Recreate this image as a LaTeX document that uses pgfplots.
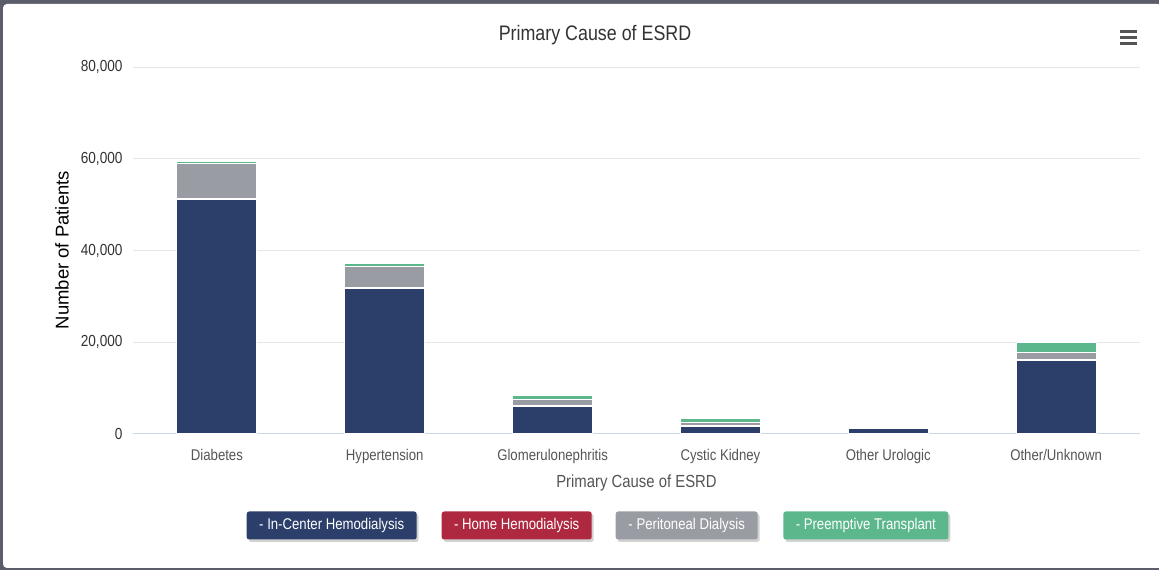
\documentclass[border=0pt]{standalone}
\usepackage{pgfplots}
\pgfplotsset{compat=1.18}
\usepackage{fontspec}
\setmainfont[FakeStretch=0.85]{Liberation Sans}
\newfontfamily\ylabfont{Liberation Sans}
\usetikzlibrary{shadows}

\definecolor{frame}{HTML}{5B5D6B}
\definecolor{incenter}{HTML}{2C3F6B}
\definecolor{homehd}{HTML}{AE283F}
\definecolor{perit}{HTML}{999DA3}
\definecolor{transp}{HTML}{5CB88C}
\definecolor{gridc}{HTML}{E6E6E6}
\definecolor{axisc}{HTML}{CCD6EB}
\definecolor{txt}{HTML}{333333}
\definecolor{lbl}{HTML}{555555}

% patients by primary cause (order: Diabetes ... Other/Unknown)
\pgfplotstableread{
x  ic     home  pd    pt
0  51200  200   7600  450
1  31800  150   4650  500
2  6100   50    1450  700
3  1740   30    730   900
4  1200   10    40    30
5  16100  100   1500  2200
}\esrd

\begin{document}
\begin{tikzpicture}[x=1pt,y=1pt]
\useasboundingbox (0,0) rectangle (1159,570);
% card frame
\fill[frame] (0,0) rectangle (1159,570);
\fill[white, rounded corners=4pt] (3,2) rectangle (1162,566);

\begin{axis}[
  at={(133pt,136pt)}, anchor=south west,
  scale only axis, width=1007pt, height=367pt,
  ybar stacked, bar width=80pt,
  xmin=-0.5, xmax=5.5, ymin=0, ymax=80000,
  xtick={0,...,5},
  xticklabels={Diabetes,Hypertension,Glomerulonephritis,Cystic Kidney,Other Urologic,Other/Unknown},
  ytick={0,20000,40000,60000,80000},
  scaled y ticks=false,
  /pgf/number format/.cd, 1000 sep={,}, assume math mode=true,
  /pgfplots/.cd,
  major tick length=0pt,
  axis x line*=bottom, axis y line*=left,
  x axis line style={axisc, line width=1pt, -},
  y axis line style={draw=none},
  ymajorgrids, grid style={gridc, line width=1pt},
  xticklabel style={font=\fontsize{15.5}{18}\selectfont, text=lbl, yshift=-12pt},
  yticklabel style={font=\fontsize{16}{18}\selectfont, text=txt, xshift=-7pt},
  title={Primary Cause of ESRD},
  title style={font=\fontsize{21}{24}\selectfont, text=txt, at={(0.4588,1.071)}, anchor=center},
  xlabel={Primary Cause of ESRD},
  xlabel style={font=\fontsize{17.5}{20}\selectfont, text=lbl, at={(0.5,-0.134)}, anchor=center},
  ylabel={\ylabfont Number of Patients},
  ylabel style={font=\fontsize{18.5}{22}\selectfont, text=black, at={(-0.0705,0.501)}, anchor=center, rotate=0},
  every axis plot/.append style={draw=white, line width=1pt},
]
\addplot[fill=incenter] table[x=x, y=ic] {\esrd};
\addplot[fill=homehd] table[x=x, y=home] {\esrd};
\addplot[fill=perit] table[x=x, y=pd] {\esrd};
\addplot[fill=transp] table[x=x, y=pt] {\esrd};
\end{axis}

% series key
\tikzset{key/.style={rounded corners=2.5pt, minimum height=28pt, text=white,
  font=\fontsize{15.5}{18}\selectfont, inner sep=0pt,
  drop shadow={shadow xshift=2pt, shadow yshift=-2.5pt, opacity=0.35}}}
\node[key, fill=incenter, minimum width=170pt] at (331.7,44.5) {- In-Center Hemodialysis};
\node[key, fill=homehd, minimum width=150pt] at (516.7,44.5) {- Home Hemodialysis};
\node[key, fill=perit, minimum width=142pt] at (686.7,44.5) {- Peritoneal Dialysis};
\node[key, fill=transp, minimum width=165pt] at (865.8,44.5) {- Preemptive Transplant};

% export menu glyph
\foreach \yy in {538.3,532.7,526.7}
  \draw[lbl, line width=2.6pt] (1120,\yy) -- (1137,\yy);
\end{tikzpicture}
\end{document}
